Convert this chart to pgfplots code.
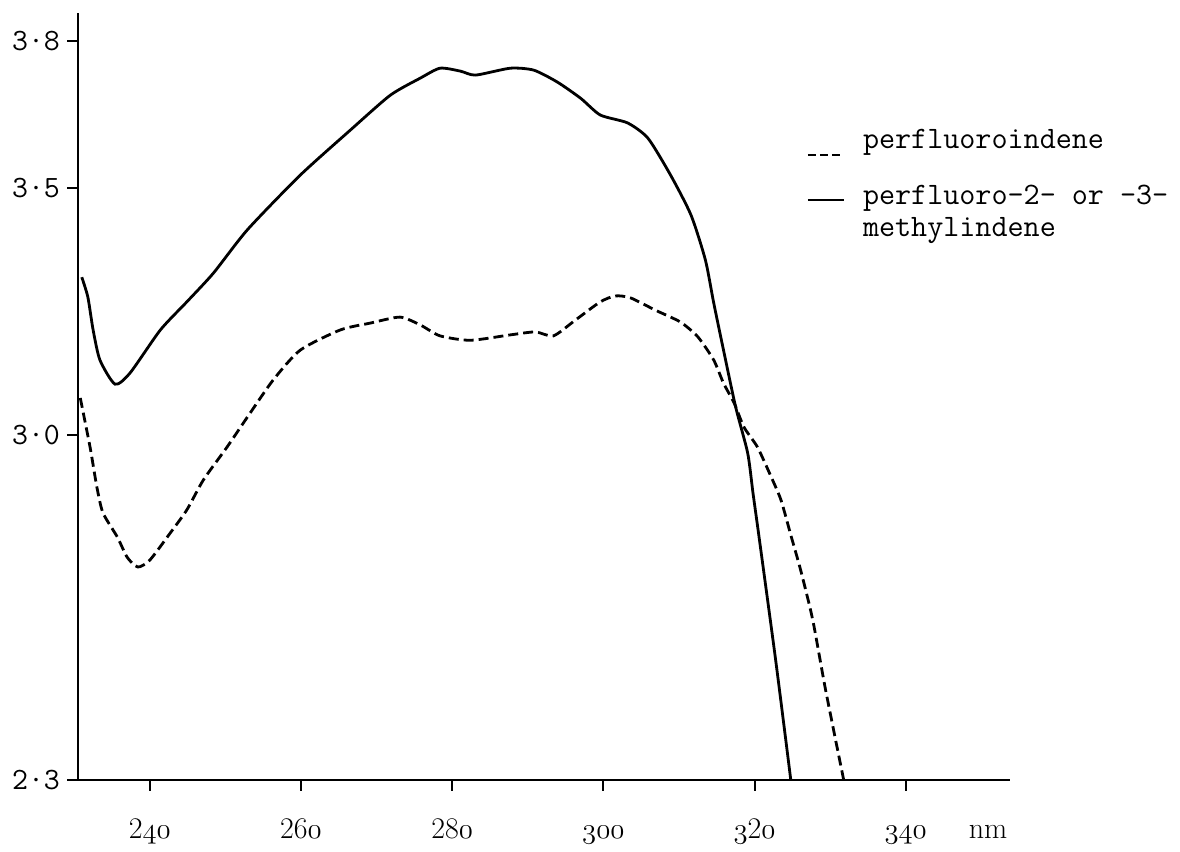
\documentclass[border=0pt]{standalone}
\usepackage{pgfplots}
\pgfplotsset{compat=1.18}
\newcommand{\os}[1]{$\mathnormal{#1}$}
\begin{document}
\begin{tikzpicture}
\begin{axis}[
  scale only axis, width=466pt, height=383.5pt,
  xmin=230.5, xmax=353.8, ymin=2.3, ymax=3.856,
  axis lines=left, axis line style={-, line width=1pt},
  tick align=outside, major tick length=5.5pt,
  tick style={line width=1pt, black},
  xtick={240,260,280,300,320,340},
  xticklabels={2\os{40},26\os{0},28\os{0},\os{300},\os{3}2\os{0},\os{340}},
  ytick={2.3,3.0,3.5,3.8},
  yticklabels={2·3,3·0,3·5,3·8},
  xticklabel style={font=\fontsize{15}{18}\selectfont, anchor=base, yshift=-24pt},
  yticklabel style={font=\fontsize{15.5}{18}\selectfont\ttfamily},
  clip=false,
]
\addplot[black, line width=1.4pt, smooth, tension=0.4] coordinates {
(231.0,3.320) (231.8,3.280) (232.5,3.213) (233.4,3.152) (235.4,3.103)
(237.4,3.126) (241.4,3.213) (244.9,3.270) (248.4,3.328) (252.9,3.416)
(259.9,3.527) (266.5,3.618) (271.8,3.689) (275.8,3.724) (278.4,3.744)
(281.1,3.738) (283.1,3.730) (287.7,3.744) (290.8,3.740) (293.9,3.716)
(297.0,3.683) (299.6,3.649) (303.2,3.633) (305.9,3.602) (308.9,3.527)
(311.6,3.446) (313.5,3.355) (314.6,3.268) (315.9,3.172) (317.5,3.057)
(319.1,2.963) (319.8,2.882) (320.6,2.793) (322.8,2.543) (324.8,2.300)
};
\addplot[black, line width=1.4pt, dash pattern=on 5pt off 2.5pt, smooth, tension=0.4] coordinates {
(230.8,3.075) (232.1,2.975) (233.0,2.894) (233.8,2.842) (235.7,2.793)
(237.0,2.752) (238.4,2.732) (240.0,2.746) (242.7,2.801) (244.9,2.848)
(247.1,2.909) (250.2,2.975) (252.9,3.036) (256.3,3.111) (259.9,3.172)
(265.2,3.213) (269.2,3.227) (273.1,3.239) (275.8,3.223) (278.4,3.201)
(282.4,3.192) (287.7,3.203) (291.0,3.209) (293.4,3.201) (296.3,3.233)
(299.6,3.270) (301.6,3.282) (303.6,3.278) (306.9,3.253) (310.2,3.229)
(312.5,3.199) (314.6,3.152) (315.9,3.105) (317.3,3.065) (318.6,3.016)
(320.4,2.975) (322.2,2.915) (323.5,2.868) (324.8,2.797) (326.1,2.726)
(327.7,2.625) (329.4,2.483) (331.8,2.300)
};
\coordinate (O) at (rel axis cs:0,0);
\draw[black, line width=1.2pt, dash pattern=on 4pt off 2pt] (axis cs:327.05,3.568) -- (axis cs:331.8,3.568);
\draw[black, line width=1.2pt] (axis cs:327.05,3.476) -- (axis cs:331.8,3.476);
\node[anchor=base west, inner sep=0pt, font=\fontsize{15.6}{18}\selectfont\ttfamily] at (axis cs:334.3,3.582) {perfluoroindene};
\node[anchor=base west, inner sep=0pt, font=\fontsize{15.6}{18}\selectfont\ttfamily] at (axis cs:334.3,3.468) {perfluoro-2- or -3-};
\node[anchor=base west, inner sep=0pt, font=\fontsize{15.6}{18}\selectfont\ttfamily] at (axis cs:334.3,3.403) {methylindene};
\node[anchor=base, inner sep=0pt, font=\fontsize{15}{18}\selectfont] at (axis cs:350.9,2.3) [yshift=-29.5pt] {nm};
\end{axis}
\path ([shift={(-39pt,-33.5pt)}]O) rectangle ([shift={(551pt,390pt)}]O);
\end{tikzpicture}
\end{document}
